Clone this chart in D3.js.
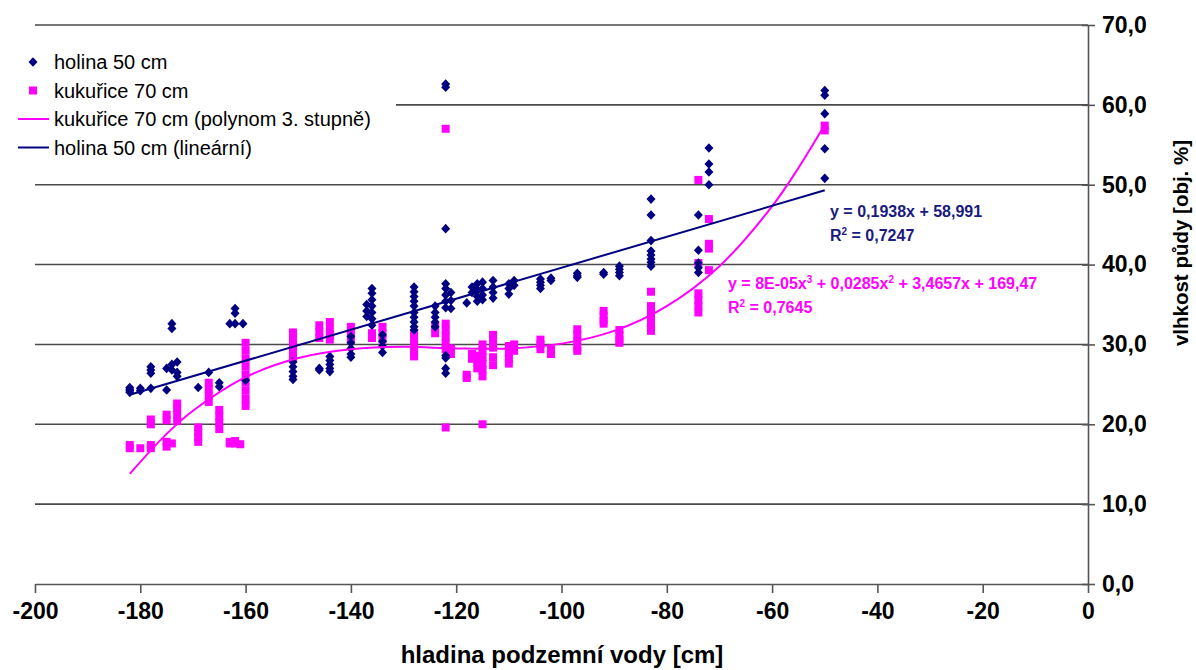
<!DOCTYPE html>
<html>
<head>
<meta charset="utf-8">
<script src="https://cdn.jsdelivr.net/npm/d3@7"></script>
<style>
  body { margin: 0; background: #fff; }
  svg { display: block; font-family: "Liberation Sans", Arial, sans-serif; }
</style>
</head>
<body>
<div id="chart"></div>
<script>
'use strict';

// holina 50 cm: groundwater level [cm] -> soil moisture readings [obj. %]
const holinaData = [
    [-182, [24.6, 24.4, 24.2, 24.0]],
    [-180, [24.5, 24.2]],
    [-178, [27.2, 26.8, 26.4, 24.5]],
    [-175, [27.0, 24.3]],
    [-174, [32.6, 32.0, 27.5, 26.8]],
    [-173, [27.8, 26.5, 26.0]],
    [-169, [24.6]],
    [-167, [26.5]],
    [-165, [25.2, 24.7]],
    [-163, [32.6]],
    [-162, [34.5, 33.9, 32.6]],
    [-160.5, [32.6]],
    [-160, [25.5]],
    [-151, [27.8, 27.2, 26.6, 26.0, 25.6]],
    [-146, [27.0, 26.8]],
    [-144, [28.5, 28.0, 27.5, 27.0, 26.6]],
    [-140, [31.0, 30.2, 29.5, 28.8, 28.4]],
    [-137, [35.0, 34.2, 33.5]],
    [-136, [37.0, 36.4, 35.6, 34.8, 34.0, 33.2, 32.4]],
    [-134, [31.2, 30.4, 29.8, 29.0]],
    [-128, [37.2, 36.6, 36.0, 35.4, 34.8, 34.0, 33.4, 32.8, 32.2, 31.8]],
    [-124, [34.8, 34.0, 33.4, 32.8, 32.2]],
    [-122, [62.6, 62.2, 44.5, 37.6, 37.0, 36.2, 35.4, 34.6, 28.6, 28.3, 27.0, 26.4]],
    [-121, [36.5, 35.5, 34.5]],
    [-118, [35.2]],
    [-117, [37.2, 36.5]],
    [-116, [37.6, 36.8, 36.0, 35.4]],
    [-115, [37.8, 37.0, 36.2, 35.6]],
    [-113, [38.0, 37.2, 36.5, 35.8]],
    [-110, [37.6, 37.0, 36.3]],
    [-109, [38.0, 37.4]],
    [-104, [38.2, 37.8, 37.4, 37.0]],
    [-102, [38.3, 38.0]],
    [-97, [38.9, 38.6, 38.4]],
    [-92, [39.0, 38.8]],
    [-89, [39.8, 39.4, 39.0, 38.6]],
    [-83, [48.2, 46.2, 43.0, 41.7, 41.2, 40.7, 40.3, 39.8]],
    [-74, [46.2, 41.8, 40.2, 39.6, 39.0]],
    [-72, [54.6, 52.6, 51.6, 50.0]],
    [-50, [61.8, 61.2, 58.9, 54.5, 50.8]]
];

// kukuřice 70 cm
const kukuriceData = [
    [-182, [17.4, 17.0]],
    [-180, [17.0]],
    [-178, [20.6, 20.0, 17.4, 17.0]],
    [-175, [21.2, 20.5, 17.8, 17.2]],
    [-174, [17.6]],
    [-173, [22.6, 22.0, 21.2, 20.4]],
    [-169, [19.6, 19.0, 18.4, 17.8]],
    [-167, [25.2, 24.4, 23.6, 22.8]],
    [-165, [21.8, 21.0, 20.2, 19.4]],
    [-163, [17.6, 17.8]],
    [-162, [17.9, 17.6]],
    [-161, [17.5]],
    [-160, [30.2, 29.2, 28.2, 27.2, 26.2, 25.2, 24.2, 23.2, 22.3]],
    [-151, [31.5, 30.6, 29.7, 28.8, 28.2]],
    [-146, [32.4, 31.6, 30.8]],
    [-144, [32.8, 32.0, 31.2, 30.6]],
    [-140, [32.2, 31.5, 30.8]],
    [-136, [31.4, 30.8]],
    [-134, [32.2, 31.4, 30.6]],
    [-128, [31.4, 30.6, 29.8, 29.0, 28.5]],
    [-124, [32.2, 31.4]],
    [-122, [57.0, 32.6, 31.8, 31.0, 30.2, 29.4, 19.6]],
    [-121, [29.5, 28.8]],
    [-118, [26.2, 25.8]],
    [-117, [28.8, 28.2]],
    [-116, [28.6, 27.8, 27.0]],
    [-115, [30.0, 29.2, 28.4, 27.6, 26.8, 26.0, 20.0]],
    [-113, [31.2, 30.4, 29.6, 28.4, 27.4]],
    [-110, [29.8, 29.0, 28.2, 27.6]],
    [-109, [30.0, 29.2]],
    [-104, [30.6, 30.0, 29.4]],
    [-102, [29.4, 28.8]],
    [-97, [31.9, 31.2, 30.4, 29.6, 29.2]],
    [-92, [34.2, 33.6, 33.0, 32.6]],
    [-89, [31.8, 31.2, 30.6, 30.2]],
    [-83, [36.6, 34.8, 34.0, 33.2, 32.4, 31.7]],
    [-74, [50.6, 40.2, 36.4, 35.6, 34.8, 34.0]],
    [-72, [45.7, 42.6, 42.0, 39.3]],
    [-50, [57.4, 56.8]]
];

// trend lines
const holinaTrend = [[-182, 23.7], [-50, 49.3]];
const kukuriceTrend = [
    [-182, 13.8], [-175, 18.8], [-170, 21.7], [-160, 25.9], [-150, 28.3],
    [-140, 29.4], [-130, 29.7], [-120, 29.5], [-110, 29.5], [-100, 30.1],
    [-90, 31.7], [-80, 34.8], [-70, 39.8], [-60, 47.3], [-55, 52.1], [-50, 57.5]
];

const xTicks = [-200, -180, -160, -140, -120, -100, -80, -60, -40, -20, 0];
const yTicks = [0, 10, 20, 30, 40, 50, 60, 70];

const legendItems = [
    { label: 'holina 50 cm', type: 'diamond', colour: '#000080' },
    { label: 'kukuřice 70 cm', type: 'square', colour: '#ff00ff' },
    { label: 'kukuřice 70 cm (polynom 3. stupně)', type: 'line', colour: '#ff00ff' },
    { label: 'holina 50 cm (lineární)', type: 'line', colour: '#000080' }
];

const width = 1196;
const height = 670;
const plot = { left: 35, right: 1088, top: 25, bottom: 584 };

const svg = d3.select('#chart')
    .append('svg')
    .attr('width', width)
    .attr('height', height);

const xScale = d3.scaleLinear().domain([-200, 0]).range([plot.left, plot.right]);
const yScale = d3.scaleLinear().domain([0, 70]).range([plot.bottom, plot.top]);

const fmt = function (v) {
    return d3.format('.1f')(v).replace('.', ',');
};

// gridlines
svg.append('g')
    .selectAll('line')
    .data(yTicks.filter(function (d) { return d > 0; }))
    .join('line')
    .attr('x1', plot.left)
    .attr('x2', plot.right)
    .attr('y1', function (d) { return yScale(d); })
    .attr('y2', function (d) { return yScale(d); })
    .attr('stroke', '#4a4a4a')
    .attr('stroke-width', 1.6);

// x axis
const xAxis = d3.axisBottom(xScale)
    .tickValues(xTicks)
    .tickSize(9)
    .tickSizeOuter(0)
    .tickPadding(10)
    .tickFormat(d3.format('d'));

const xg = svg.append('g')
    .attr('transform', `translate(0,${plot.bottom})`)
    .call(xAxis);
xg.select('.domain').attr('stroke', '#555').attr('stroke-width', 1.6);
xg.selectAll('.tick line').attr('stroke', '#555').attr('stroke-width', 1.6);
xg.selectAll('.tick text')
    .attr('font-size', 23)
    .attr('font-weight', 700)
    .attr('font-family', '"Liberation Sans", Arial, sans-serif')
    .attr('fill', '#000')
    .text(function (d) { return d === 0 ? '0' : String(d); });

// y axis on the right
const yAxis = d3.axisRight(yScale)
    .tickValues(yTicks)
    .tickSize(7)
    .tickSizeOuter(0)
    .tickPadding(7)
    .tickFormat(fmt);

const yg = svg.append('g')
    .attr('transform', `translate(${plot.right},0)`)
    .call(yAxis);
yg.select('.domain').attr('stroke', '#555').attr('stroke-width', 1.6);
yg.selectAll('.tick line')
    .attr('x1', -6)
    .attr('stroke', '#555')
    .attr('stroke-width', 1.6);
yg.selectAll('.tick text')
    .attr('font-size', 23)
    .attr('font-weight', 700)
    .attr('font-family', '"Liberation Sans", Arial, sans-serif')
    .attr('fill', '#000');

// axis titles
svg.append('text')
    .attr('x', 562)
    .attr('y', 663)
    .attr('text-anchor', 'middle')
    .attr('font-size', 24)
    .attr('font-weight', 700)
    .text('hladina podzemní vody [cm]');

svg.append('text')
    .attr('transform', 'translate(1188,243) rotate(-90)')
    .attr('text-anchor', 'middle')
    .attr('font-size', 20.5)
    .attr('font-weight', 700)
    .text('vlhkost půdy [obj. %]');

// flatten point columns
const flatten = function (cols) {
    return cols.flatMap(function (c) {
        return c[1].map(function (v) { return { x: c[0], y: v }; });
    });
};
const holinaPoints = flatten(holinaData);
const kukuricePoints = flatten(kukuriceData);

const plotArea = svg.append('g');

plotArea.selectAll('rect.kuk')
    .data(kukuricePoints)
    .join('rect')
    .attr('class', 'kuk')
    .attr('x', function (d) { return xScale(d.x) - 4; })
    .attr('y', function (d) { return yScale(d.y) - 4; })
    .attr('width', 8)
    .attr('height', 8)
    .attr('fill', '#ff00ff');

const diamond = 'M0,-4.8L4.5,0L0,4.8L-4.5,0Z';

plotArea.selectAll('path.hol')
    .data(holinaPoints)
    .join('path')
    .attr('class', 'hol')
    .attr('d', diamond)
    .attr('transform', function (d) {
        return `translate(${xScale(d.x)},${yScale(d.y)})`;
    })
    .attr('fill', '#000080');

// trend lines
const lineGen = d3.line()
    .x(function (d) { return xScale(d[0]); })
    .y(function (d) { return yScale(d[1]); });

plotArea.append('path')
    .datum(kukuriceTrend)
    .attr('fill', 'none')
    .attr('stroke', '#ff00ff')
    .attr('stroke-width', 2)
    .attr('d', lineGen.curve(d3.curveCatmullRom));

plotArea.append('path')
    .datum(holinaTrend)
    .attr('fill', 'none')
    .attr('stroke', '#000080')
    .attr('stroke-width', 2)
    .attr('d', lineGen.curve(d3.curveLinear));

// equation labels
const eqBlue = svg.append('text')
    .attr('font-size', 16)
    .attr('font-weight', 700)
    .attr('fill', '#1a1a80');
eqBlue.append('tspan').attr('x', 830).attr('y', 217).text('y = 0,1938x + 58,991');
eqBlue.append('tspan').attr('x', 830).attr('y', 241).text('R');
eqBlue.append('tspan').attr('dy', -6).attr('font-size', 10).text('2');
eqBlue.append('tspan').attr('dy', 6).text(' = 0,7247');

const eqPink = svg.append('text')
    .attr('font-size', 16)
    .attr('font-weight', 700)
    .attr('fill', '#ff00ff');
eqPink.append('tspan').attr('x', 728).attr('y', 289).text('y = 8E-05x');
eqPink.append('tspan').attr('dy', -6).attr('font-size', 10).text('3');
eqPink.append('tspan').attr('dy', 6).text(' + 0,0285x');
eqPink.append('tspan').attr('dy', -6).attr('font-size', 10).text('2');
eqPink.append('tspan').attr('dy', 6).text(' + 3,4657x + 169,47');
eqPink.append('tspan').attr('x', 728).attr('y', 313).text('R');
eqPink.append('tspan').attr('dy', -6).attr('font-size', 10).text('2');
eqPink.append('tspan').attr('dy', 6).text(' = 0,7645');

// legend
const legend = svg.append('g');
legend.append('rect')
    .attr('x', 0)
    .attr('y', 40)
    .attr('width', 396)
    .attr('height', 125)
    .attr('fill', '#fff');

const legendRows = legend.selectAll('g.item')
    .data(legendItems)
    .join('g')
    .attr('class', 'item')
    .attr('transform', function (d, i) {
        return `translate(0,${62 + i * 28.5})`;
    });

legendRows.each(function (d) {
    const row = d3.select(this);
    if (d.type === 'diamond') {
        row.append('path').attr('d', diamond).attr('transform', 'translate(33,0)').attr('fill', d.colour);
    } else if (d.type === 'square') {
        row.append('rect').attr('x', 29).attr('y', -4).attr('width', 8).attr('height', 8).attr('fill', d.colour);
    } else {
        row.append('line').attr('x1', 18).attr('x2', 49).attr('stroke', d.colour).attr('stroke-width', 2);
    }
});

legendRows.append('text')
    .attr('x', 54)
    .attr('y', 7)
    .attr('font-size', 20)
    .attr('fill', '#000')
    .text(function (d) { return d.label; });
</script>
</body>
</html>
